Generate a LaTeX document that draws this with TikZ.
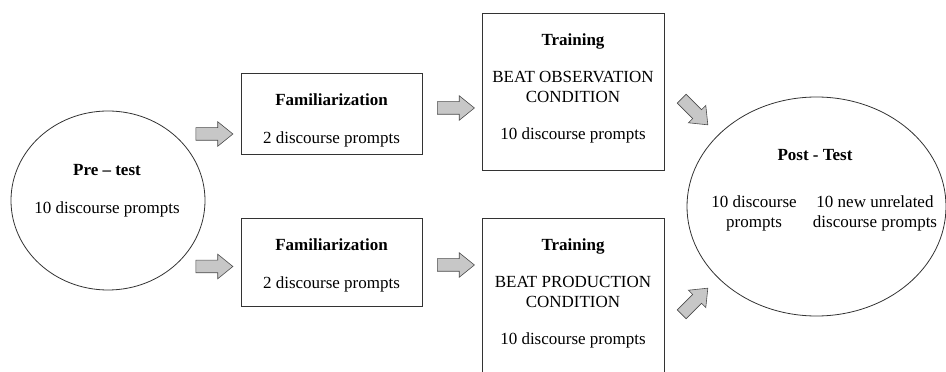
\documentclass[tikz,border=0pt]{standalone}
\usepackage{fontspec}
\setmainfont{Liberation Serif}
\usetikzlibrary{positioning,shapes.geometric,shapes.arrows}

\begin{document}
\begin{tikzpicture}[x=1pt,y=1pt,node distance=21pt,
  stage/.style={rectangle,draw=black!80,line width=0.8pt,minimum width=181pt,inner sep=0pt},
  phase/.style={ellipse,draw=black!80,line width=0.8pt,inner sep=0pt},
  words/.style={align=center,inner sep=0pt,font=\fontsize{17}{20}\selectfont},
  blockarrow/.style={single arrow,draw=black!70,fill=black!22,line width=0.6pt,
    minimum height=37pt,inner xsep=0pt,inner ysep=6pt,single arrow head extend=6pt,
    single arrow tip angle=78}]
\useasboundingbox (0,0) rectangle (946,372);

% stages
\node[phase,minimum width=194pt,minimum height=179pt] (pre) at (108,171.5) {};
\node[stage,minimum height=81pt] (fam1) at (331.5,258.5) {};
\node[stage,minimum height=88pt] (fam2) at (331.5,110) {};
\node[stage,minimum width=182pt,minimum height=157pt] (train1) at (573,280.5) {};
\node[stage,minimum width=182pt,minimum height=180pt] (train2) at (573,64) {};
\node[phase,minimum width=259pt,minimum height=219pt] (post) at (816.5,165.5) {};

% texts
\node[words] (pretxt) at (107,181) {\textbf{Pre – test}\\[18pt]10 discourse prompts};
\node[words,below=of fam1.north] (fam1txt) {\textbf{Familiarization}\\[18pt]2 discourse prompts};
\node[words,below=of fam2.north] (fam2txt) {\textbf{Familiarization}\\[18pt]2 discourse prompts};
\node[words,below=of train1.north] (train1txt) {\textbf{Training}\\[17pt]BEAT OBSERVATION\\CONDITION\\[17pt]10 discourse prompts};
\node[words,below=of train2.north] (train2txt) {\textbf{Training}\\[17pt]BEAT PRODUCTION\\CONDITION\\[17pt]10 discourse prompts};
\node[words] (posttitle) at (815,217) {\textbf{Post - Test}};
\node[words] (postleft) at (754,158.5) {10 discourse\\prompts};
\node[words] (postright) at (875,158.5) {10 new unrelated\\discourse prompts};

% block arrows
\node[blockarrow] (a1) at (210.5,238) {};
\node[blockarrow] (a2) at (210.5,105.5) {};
\node[blockarrow] (a3) at (452,264) {};
\node[blockarrow] (a4) at (452,107) {};
\node[blockarrow,rotate=-45] (a5) at (692,263) {};
\node[blockarrow,rotate=45] (a6) at (692,68) {};
\end{tikzpicture}
\end{document}
